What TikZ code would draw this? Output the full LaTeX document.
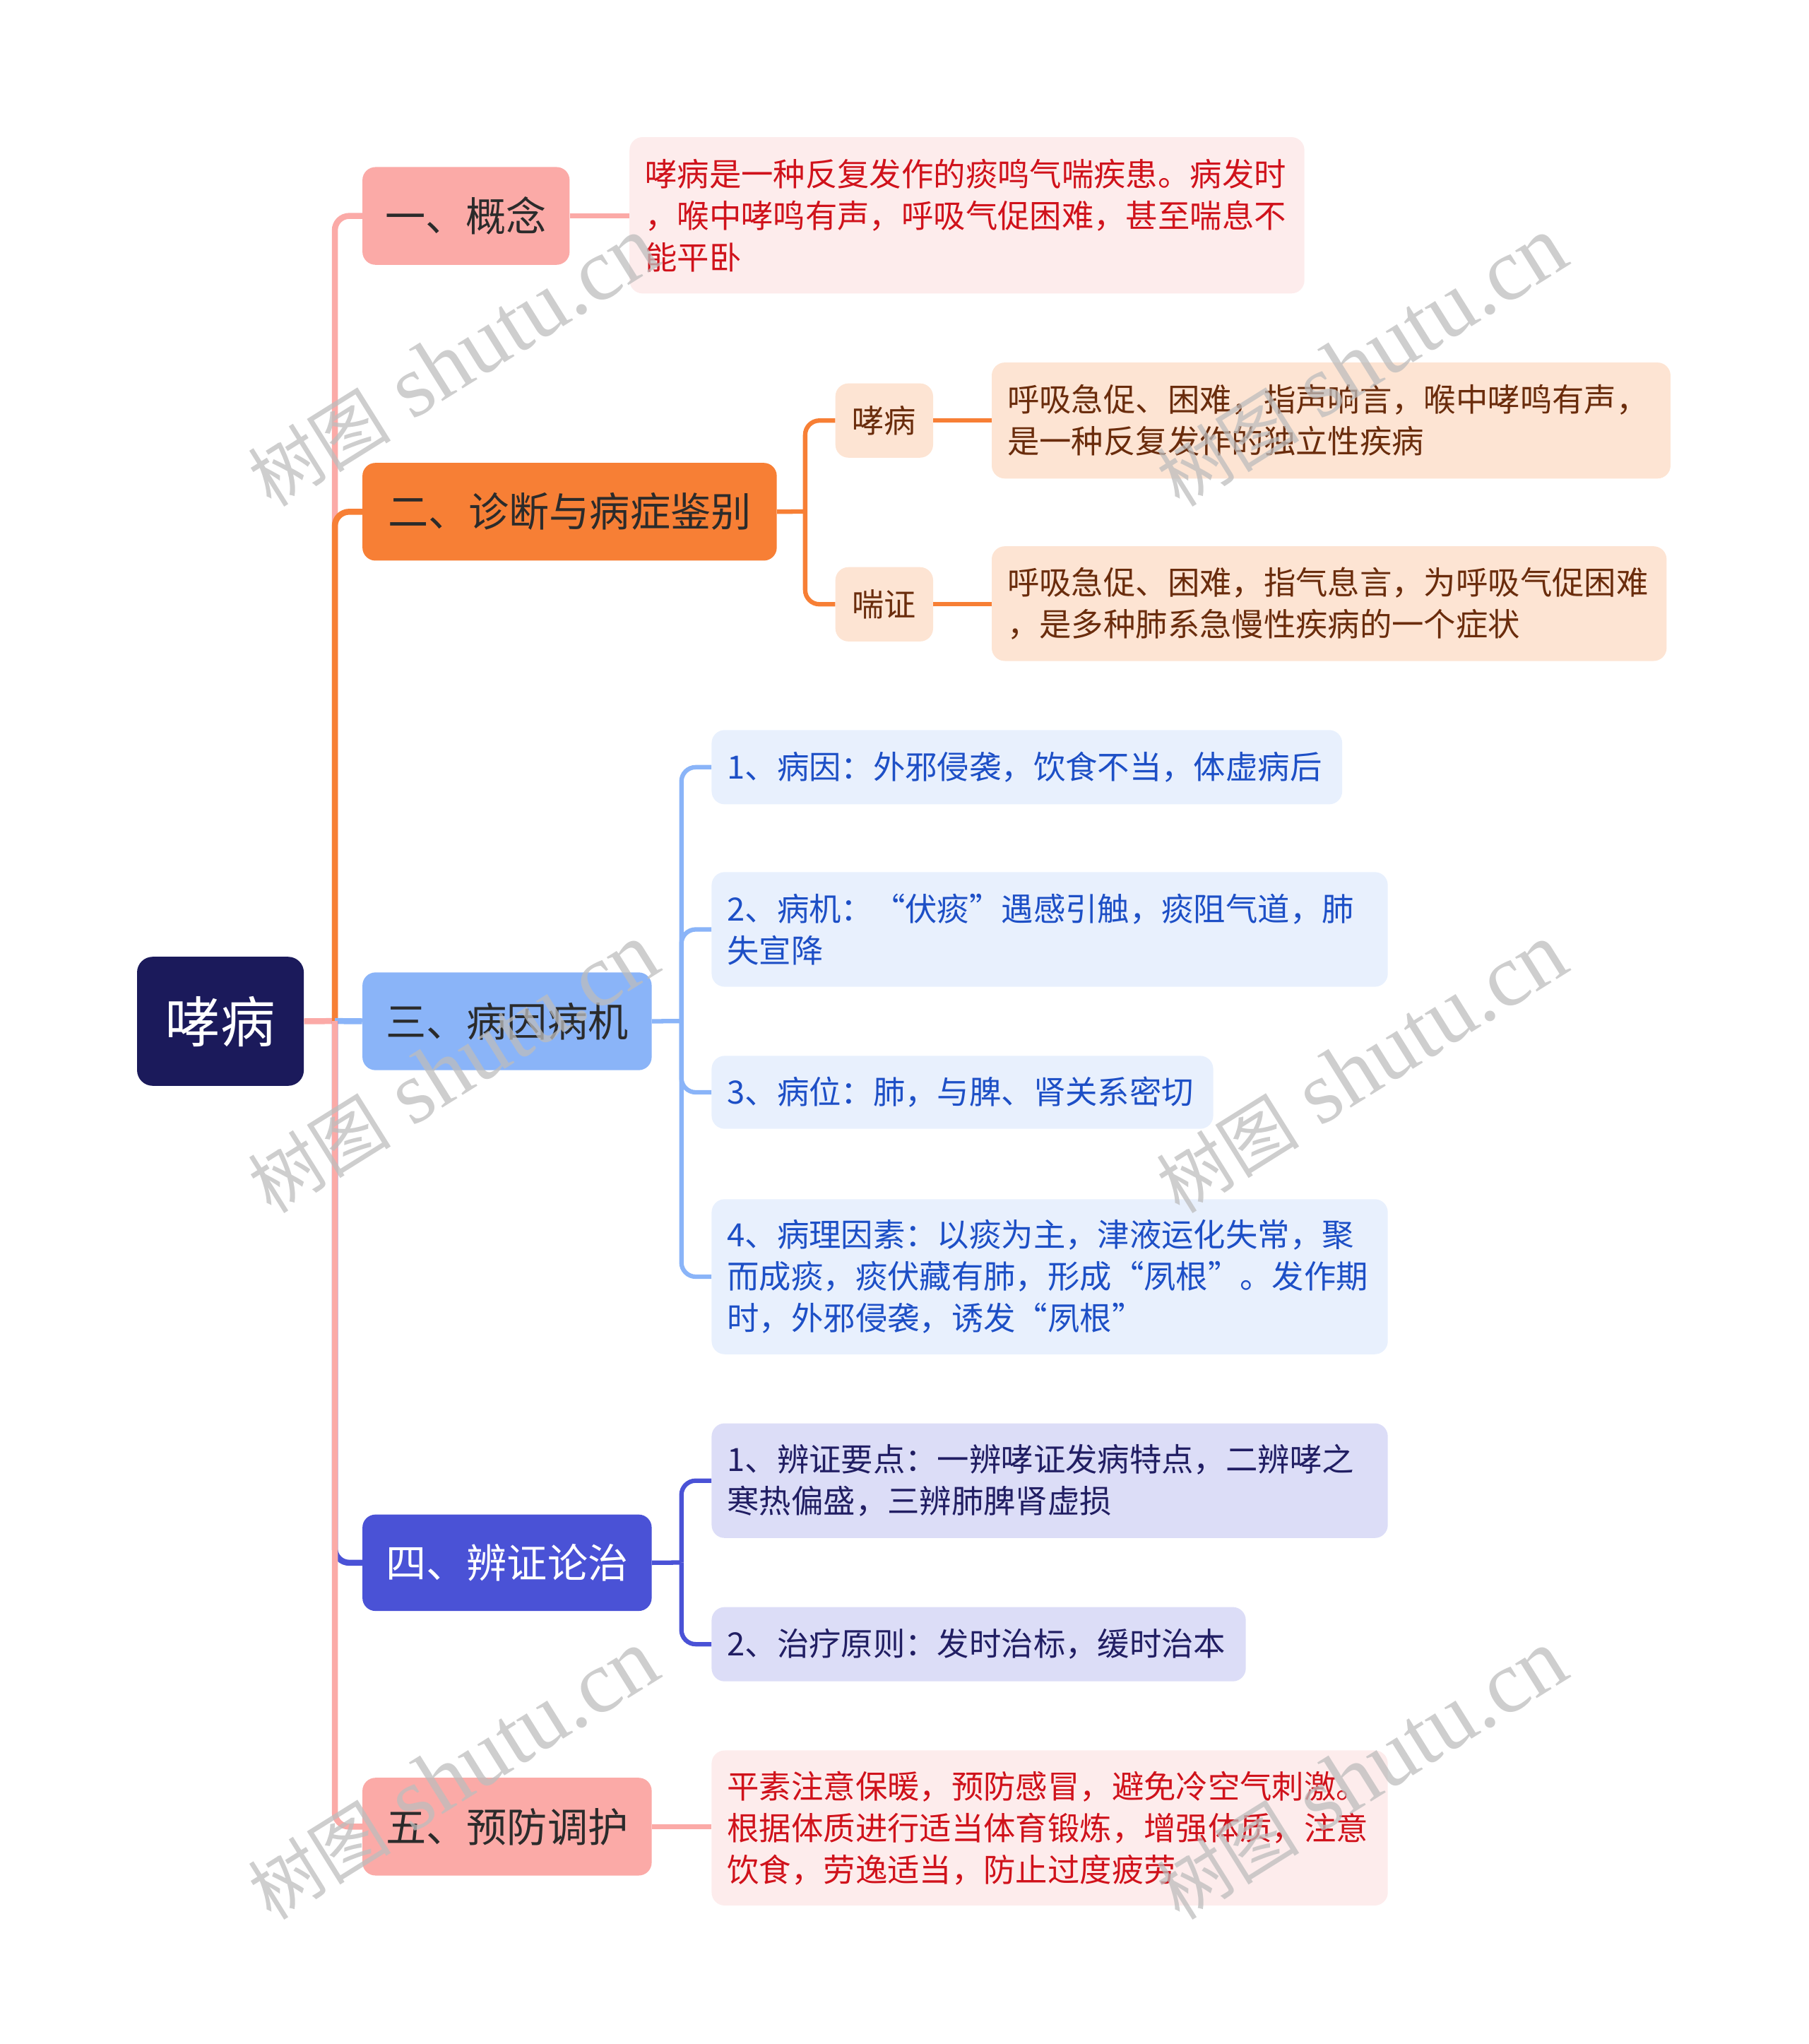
\documentclass[tikz,border=0pt]{standalone}
\usepackage{fontspec}
\setmainfont{Noto Sans CJK SC}
\newfontfamily\wmserif{Liberation Serif}
\newfontfamily\wmcjk{Noto Sans CJK SC}
\newcommand\qo{{\addfontfeature{CharacterWidth=Full}“}}
\newcommand\qc{{\addfontfeature{CharacterWidth=Full}”}}
\definecolor{rootc}{HTML}{1B1A5B}
\definecolor{pinkc}{HTML}{FBAAA7}
\definecolor{orangec}{HTML}{F77F35}
\definecolor{bluec}{HTML}{8AB4F8}
\definecolor{indigoc}{HTML}{4A52D6}
\definecolor{pinkbg}{HTML}{FDECEC}
\definecolor{redtx}{HTML}{D0121B}
\definecolor{peachbg}{HTML}{FDE4D3}
\definecolor{browntx}{HTML}{6A2C0C}
\definecolor{bluebg}{HTML}{E8F0FD}
\definecolor{bluetx}{HTML}{1D4FC6}
\definecolor{lavbg}{HTML}{DCDDF7}
\definecolor{lavtx}{HTML}{211E63}
\definecolor{darktx}{HTML}{2B2B2B}
\definecolor{wmgray}{HTML}{BDBDBD}
\begin{document}
\begin{tikzpicture}[x=1pt,y=-1pt,
  rootbox/.style={anchor=north west, rounded corners=12pt, fill=rootc, text=white,
    inner sep=0pt, font=\fontsize{42}{50}\selectfont},
  topicbox/.style={anchor=north west, rounded corners=10pt, inner sep=0pt,
    font=\fontsize{31}{38}\selectfont, text=darktx},
  subbox/.style={anchor=north west, rounded corners=10pt, inner sep=0pt,
    fill=peachbg, text=browntx, font=\fontsize{24.5}{32}\selectfont},
  leafbox/.style={anchor=north west, rounded corners=10pt, inner xsep=12pt, inner ysep=0pt,
    align=left, font=\fontsize{24.6}{32}\selectfont},
  mainline/.style={line width=4.6pt},
  subline/.style={line width=3.4pt},
  wm/.style={text=wmgray, opacity=0.75, rotate=32}
]
\useasboundingbox (0,0) rectangle (1388,1568.5);

% root
\node[rootbox, minimum width=128pt, minimum height=99pt] (root) at (105,734) {哮病};

% level 1
\node[topicbox, fill=pinkc, minimum width=159pt, minimum height=75pt] (n1) at (278,128) {一、概念};
\node[topicbox, fill=orangec, minimum width=318pt, minimum height=75pt] (n2) at (278,355) {二、诊断与病症鉴别};
\node[topicbox, fill=bluec, minimum width=222pt, minimum height=75pt] (n3) at (278,746) {三、病因病机};
\node[topicbox, fill=indigoc, text=white, minimum width=222pt, minimum height=74pt] (n4) at (278,1162) {四、辨证论治};
\node[topicbox, fill=pinkc, minimum width=222pt, minimum height=75pt] (n5) at (278,1364) {五、预防调护};

% branch 1
\node[leafbox, fill=pinkbg, text=redtx, text width=494pt, minimum height=120pt] (l1) at (483,105)
  {哮病是一种反复发作的痰鸣气喘疾患。病发时\\，喉中哮鸣有声，呼吸气促困难，甚至喘息不\\能平卧};

% branch 2
\node[subbox, minimum width=75pt, minimum height=57pt] (a1) at (641,294) {哮病};
\node[subbox, minimum width=75pt, minimum height=57pt] (a2) at (641,435) {喘证};
\node[leafbox, fill=peachbg, text=browntx, text width=497pt, minimum height=89pt] (b1) at (761,278)
  {呼吸急促、困难，指声响言，喉中哮鸣有声，\\是一种反复发作的独立性疾病};
\node[leafbox, fill=peachbg, text=browntx, text width=494pt, minimum height=88pt] (b2) at (761,419)
  {呼吸急促、困难，指气息言，为呼吸气促困难\\，是多种肺系急慢性疾病的一个症状};

% branch 3
\node[leafbox, fill=bluebg, text=bluetx, text width=460pt, minimum height=57pt] (c1) at (546,560)
  {1、病因：外邪侵袭，饮食不当，体虚病后};
\node[leafbox, fill=bluebg, text=bluetx, text width=495pt, minimum height=88pt] (c2) at (546,669)
  {2、病机：\qo 伏痰\qc 遇感引触，痰阻气道，肺\\失宣降};
\node[leafbox, fill=bluebg, text=bluetx, text width=361pt, minimum height=56pt] (c3) at (546,810)
  {3、病位：肺，与脾、肾关系密切};
\node[leafbox, fill=bluebg, text=bluetx, text width=495pt, minimum height=119pt] (c4) at (546,920)
  {4、病理因素：以痰为主，津液运化失常，聚\\而成痰，痰伏藏有肺，形成\qo 夙根\qc 。发作期\\时，外邪侵袭，诱发\qo 夙根\qc};

% branch 4
\node[leafbox, fill=lavbg, text=lavtx, text width=495pt, minimum height=88pt] (d1) at (546,1092)
  {1、辨证要点：一辨哮证发病特点，二辨哮之\\寒热偏盛，三辨肺脾肾虚损};
\node[leafbox, fill=lavbg, text=lavtx, text width=386pt, minimum height=57pt] (d2) at (546,1233)
  {2、治疗原则：发时治标，缓时治本};

% branch 5
\node[leafbox, fill=pinkbg, text=redtx, text width=495pt, minimum height=119pt] (e1) at (546,1343)
  {平素注意保暖，预防感冒，避免冷空气刺激。\\根据体质进行适当体育锻炼，增强体质，注意\\饮食，劳逸适当，防止过度疲劳};

% connectors
\coordinate (j) at (257,783.5);
\draw[mainline, pinkc] (root.east) -- (j);
\draw[mainline, pinkc, rounded corners=11pt] (j) |- (n1.west);
\draw[mainline, orangec, rounded corners=11pt] (j) |- (n2.west);
\draw[mainline, bluec] (j) -- (n3.west);
\draw[mainline, indigoc, rounded corners=11pt] (j) |- (n4.west);
\draw[mainline, pinkc, rounded corners=11pt] (j) |- (n5.west);

\draw[subline, pinkc] (n1.east) -- (n1.east -| l1.west);

\coordinate (k2) at (618,392.5);
\draw[subline, orangec] (n2.east) -- (k2);
\draw[subline, orangec, rounded corners=11pt] (k2) |- (a1.west);
\draw[subline, orangec, rounded corners=11pt] (k2) |- (a2.west);
\draw[subline, orangec] (a1.east) -- (a1.east -| b1.west);
\draw[subline, orangec] (a2.east) -- (a2.east -| b2.west);

\coordinate (k3) at (523,783.5);
\draw[subline, bluec] (n3.east) -- (k3);
\draw[subline, bluec, rounded corners=11pt] (k3) |- (c1.west);
\draw[subline, bluec, rounded corners=11pt] (k3) |- (c2.west);
\draw[subline, bluec, rounded corners=11pt] (k3) |- (c3.west);
\draw[subline, bluec, rounded corners=11pt] (k3) |- (c4.west);

\coordinate (k4) at (523,1199);
\draw[subline, indigoc] (n4.east) -- (k4);
\draw[subline, indigoc, rounded corners=11pt] (k4) |- (d1.west);
\draw[subline, indigoc, rounded corners=11pt] (k4) |- (d2.west);

\draw[subline, pinkc] (n5.east) -- (n5.east -| e1.west);

% watermarks
\foreach \wx/\wy [count=\i] in {348/278, 1045/278, 348/820, 1045/820, 348/1362, 1045/1362}
  \node[wm] (wm\i) at (\wx,\wy) {{\wmcjk\fontsize{55}{60}\selectfont 树图}{\wmserif\fontsize{68}{72}\selectfont\ shutu.cn}};
\end{tikzpicture}
\end{document}
